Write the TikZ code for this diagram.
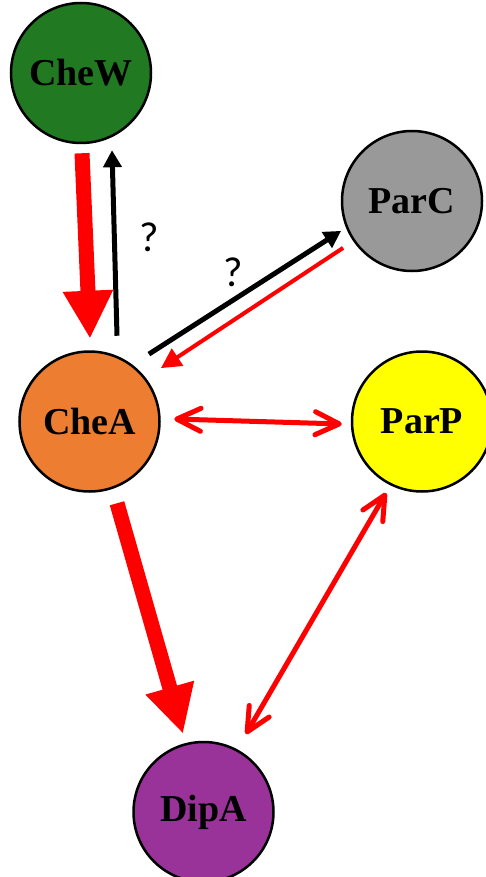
\documentclass[tikz,border=0pt]{standalone}
\usepackage{fontspec}
\setmainfont{Liberation Serif}
\newfontfamily\qfont{Carlito}
\usetikzlibrary{arrows.meta}

\definecolor{chewgreen}{RGB}{33,122,33}
\definecolor{cheaorange}{RGB}{237,125,49}
\definecolor{parcgray}{RGB}{153,153,153}
\definecolor{parpyellow}{RGB}{255,255,0}
\definecolor{dipapurple}{RGB}{153,51,153}
\definecolor{linkred}{RGB}{255,0,0}

\begin{document}
\begin{tikzpicture}[x=1pt,y=-1pt,
        protein/.style={circle, draw=black, line width=2.5pt, minimum size=140pt, inner sep=0pt,
            font=\fontsize{38}{38}\selectfont\bfseries},
        strong/.style={linkred, line width=15pt, -{Triangle[length=48pt,width=47pt]}},
        unknown/.style={black, line width=5pt, -{Triangle[length=17pt,width=18pt]}},
        weak/.style={linkred, line width=4pt, -{Triangle[length=20pt,width=20pt]}},
        mutual/.style={linkred, line width=5pt,
            {Straight Barb[length=24pt,width=23pt,round]}-{Straight Barb[length=24pt,width=23pt,round]}},
        qmark/.style={font=\fontsize{42}{42}\qfont}]
    \useasboundingbox (0,0) rectangle (486,877);
    \node[protein, fill=chewgreen] (chew) at (81,73) {CheW};
    \node[protein, fill=parcgray] (parc) at (412,201) {ParC};
    \node[protein, fill=cheaorange] (chea) at (89.5,421.5) {CheA};
    \node[protein, fill=parpyellow] (parp) at (422,421.5) {ParP};
    \node[protein, fill=dipapurple] (dipa) at (203.5,812) {DipA};

    \draw[strong] ([shift={(1,9)}]chew.south) -- ([shift={(0.5,-11.5)}]chea.north);
    \draw[unknown] ([shift={(27.5,-14.5)}]chea.north) -- ([shift={(31,6)}]chew.south);
    \draw[unknown] ([shift={(9,-17)}]chea.north east) -- ([shift={(-20.5,-20.5)}]parc.south west);
    \draw[weak] ([shift={(-18.5,-3.5)}]parc.south west) -- ([shift={(21,-3)}]chea.north east);
    \draw[mutual] ([shift={(13.5,-2.5)}]chea.east) -- ([shift={(-9,2.5)}]parp.west);
    \draw[strong] ([shift={(27.5,10.5)}]chea.south) -- ([shift={(-20.5,-7)}]dipa.north);
    \draw[mutual] ([shift={(-8,-27.5)}]dipa.north east) -- ([shift={(14.5,21)}]parp.south west);

    \node[qmark] (q1) at (149,237) {?};
    \node[qmark] (q2) at (233,272) {?};
\end{tikzpicture}
\end{document}
